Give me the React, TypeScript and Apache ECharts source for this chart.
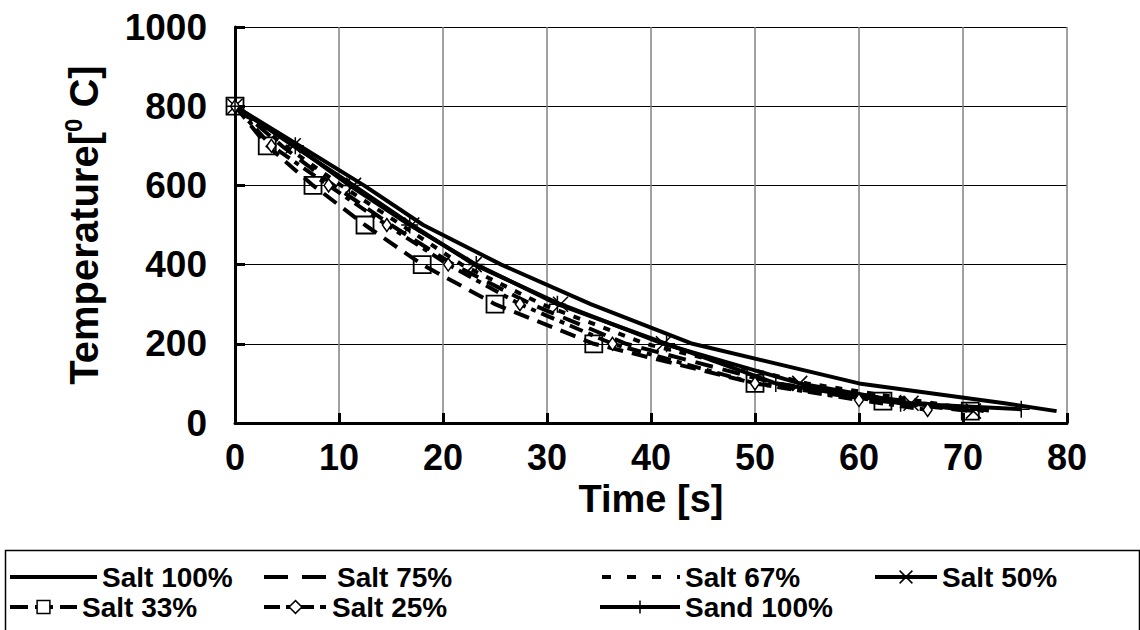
import React, { useEffect, useRef } from "react";
import * as echarts from "echarts";

// ---- data (time in s, temperature in °C) ----
const salt100Time = [0, 6.2, 12.4, 18.1, 25.6, 34.2, 44.0, 60.0, 74.0, 79.0];
const salt100Temp = [800, 700, 600, 500, 400, 300, 200, 100, 50, 30];

const salt75Time = [0, 4.5, 9.5, 15.0, 21.0, 28.5, 37.6, 52.0, 66.0, 73.0];
const salt75Temp = [800, 700, 600, 500, 400, 300, 200, 100, 50, 30];

const salt67Time = [0, 4.8, 10.2, 16.0, 21.8, 29.5, 39.5, 55.0, 66.0, 72.0];
const salt67Temp = [800, 700, 600, 500, 400, 300, 200, 100, 55, 30];

const salt50Time = [0, 5.6, 11.4, 17.0, 23.0, 31.3, 41.2, 54.3, 65.0, 71.0];
const salt50Temp = [800, 700, 600, 500, 400, 300, 200, 100, 50, 30];

const salt33Time = [0, 3.1, 7.5, 12.5, 18.0, 25.0, 34.5, 50.0, 62.3, 70.7];
const salt33Temp = [800, 700, 600, 500, 400, 300, 200, 100, 55, 30];

const salt25Time = [0, 3.5, 9.0, 14.6, 20.5, 27.4, 36.3, 50.0, 60.0, 66.6];
const salt25Temp = [800, 700, 600, 500, 400, 300, 200, 100, 58, 33];

const sand100Time = [0, 5.8, 11.0, 16.8, 23.2, 31.0, 41.5, 52.0, 64.0, 75.6];
const sand100Temp = [800, 700, 600, 500, 400, 300, 200, 100, 50, 35];

const seriesNames = ["Salt 100%", "Salt 75%", "Salt 67%", "Salt 50%", "Salt 33%", "Salt 25%", "Sand 100%"];

const pair = (t: number[], v: number[]) => t.map((x, i) => [x, v[i]]);

const FONT = "'Liberation Sans', Arial, sans-serif";
const X_SYMBOL = "path://M0,0L10,10M10,0L0,10";
const PLUS_SYMBOL = "path://M5,0L5,10M0,5L10,5";

export default function App() {
  const ref = useRef<HTMLDivElement>(null);
  useEffect(() => {
    if (!ref.current) return;
    const chart = echarts.init(ref.current, undefined, { renderer: "svg" });
    const lw = 4;
    const baseLine = (type: any) => ({ color: "#000", width: lw, type });
    const dash75 = [18, 10];
    const dash67 = [7, 9];
    const dash33 = [16, 9];
    const dash25 = [14, 6, 5, 6];
    const series: any[] = [
      {
        name: seriesNames[0], type: "line", data: pair(salt100Time, salt100Temp),
        symbol: "none", lineStyle: baseLine("solid"), itemStyle: { color: "#000" },
      },
      {
        name: seriesNames[1], type: "line", data: pair(salt75Time, salt75Temp),
        symbol: "none", lineStyle: baseLine(dash75), itemStyle: { color: "#000" },
      },
      {
        name: seriesNames[2], type: "line", data: pair(salt67Time, salt67Temp),
        symbol: "none", lineStyle: baseLine(dash67), itemStyle: { color: "#000" },
      },
      {
        name: seriesNames[3], type: "line", data: pair(salt50Time, salt50Temp),
        symbol: X_SYMBOL, symbolSize: 15, showAllSymbol: true,
        lineStyle: baseLine("solid"),
        itemStyle: { color: "none", borderColor: "#000", borderWidth: 1.5 },
      },
      {
        name: seriesNames[4], type: "line", data: pair(salt33Time, salt33Temp),
        symbol: "rect", symbolSize: 17, showAllSymbol: true,
        lineStyle: baseLine(dash33),
        itemStyle: { color: "none", borderColor: "#000", borderWidth: 1.8 },
      },
      {
        name: seriesNames[5], type: "line", data: pair(salt25Time, salt25Temp),
        symbol: "diamond", symbolSize: [9, 13], showAllSymbol: true,
        lineStyle: baseLine(dash25),
        itemStyle: { color: "#fff", borderColor: "#000", borderWidth: 1.5 },
      },
      {
        name: seriesNames[6], type: "line", data: pair(sand100Time, sand100Temp),
        symbol: PLUS_SYMBOL, symbolSize: 17, showAllSymbol: true,
        lineStyle: baseLine("solid"),
        itemStyle: { color: "none", borderColor: "#000", borderWidth: 1.5 },
      },
    ];

    const legendLayout = [
      { left: 8, top: 563, w: 87, dash: "solid", hide: true, sym: {} },
      { left: 262, top: 563, w: 68, dash: [24, 14], hide: true, sym: {} },
      { left: 600, top: 563, w: 78, dash: [9, 16], hide: true, sym: {} },
      { left: 873, top: 563, w: 62, dash: "solid", hide: false, sym: { color: "none", borderColor: "#000", borderWidth: 1.5 } },
      { left: 8, top: 593, w: 67, dash: [18, 7], hide: false, sym: { color: "#fff", borderColor: "#000", borderWidth: 1.5 } },
      { left: 262, top: 593, w: 63, dash: [16, 6, 6, 6], hide: false, sym: { color: "#fff", borderColor: "#000", borderWidth: 1.5 } },
      { left: 598, top: 593, w: 80, dash: "solid", hide: false, sym: { color: "none", borderColor: "#000", borderWidth: 1.5 } },
    ];

    chart.setOption({
      animation: false,
      backgroundColor: "#fff",
      textStyle: { fontFamily: FONT },
      grid: { left: 235, top: 27, width: 832, height: 396, containLabel: false },
      xAxis: {
        type: "value", min: 0, max: 80, interval: 10,
        name: "Time [s]", nameLocation: "middle", nameGap: 50,
        nameTextStyle: { fontSize: 38, fontWeight: "bold", color: "#000", fontFamily: FONT },
        axisLine: { show: true, onZero: false, lineStyle: { color: "#000", width: 3 } },
        axisTick: { show: true, inside: true, length: 10, lineStyle: { color: "#000", width: 3 } },
        axisLabel: { fontSize: 36, fontWeight: "bold", color: "#000", margin: 16, fontFamily: FONT, formatter: (v: number) => String(v) },
        splitLine: { show: true, lineStyle: { color: "#808080", width: 1.5 } },
      },
      yAxis: {
        type: "value", min: 0, max: 1000, interval: 200,
        name: "Temperature[{sup|0} C]", nameLocation: "middle", nameGap: 128, nameRotate: 90,
        nameTextStyle: {
          fontSize: 40, fontWeight: "bold", color: "#000", fontFamily: FONT,
          rich: { sup: { fontSize: 24, fontWeight: "bold", color: "#000", fontFamily: FONT, padding: [0, 0, 22, 0] } },
        },
        axisLine: { show: true, lineStyle: { color: "#000", width: 3 } },
        axisTick: { show: true, inside: true, length: 10, lineStyle: { color: "#000", width: 3 } },
        axisLabel: { fontSize: 37, fontWeight: "bold", color: "#000", margin: 28, fontFamily: FONT, formatter: (v: number) => String(v) },
        splitLine: { show: true, lineStyle: { color: "#000", width: 1 } },
      },
      legend: seriesNames.map((n, i) => {
        const L = legendLayout[i];
        return {
          data: [
            {
              name: n,
              itemStyle: L.hide ? { color: "transparent", borderColor: "transparent", borderWidth: 0, opacity: 0 } : L.sym,
              lineStyle: { color: "#000", width: 4, type: L.dash as any, opacity: 1 },
            },
          ],
          left: L.left, top: L.top,
          itemWidth: L.w, itemHeight: 16, padding: 0, itemGap: 0,
          selectedMode: false,
          textStyle: { fontSize: 28, fontWeight: "bold", color: "#000", fontFamily: FONT },
        };
      }),
      graphic: [
        {
          type: "rect", left: 3, top: 548, shape: { width: 1134, height: 100 },
          style: { fill: "none", stroke: "#000", lineWidth: 1.5 }, silent: true,
        },
      ],
      series,
    });
    return () => chart.dispose();
  }, []);
  return <div ref={ref} style={{ position: "fixed", left: 0, top: 0, width: 1140, height: 630 }} />;
}
